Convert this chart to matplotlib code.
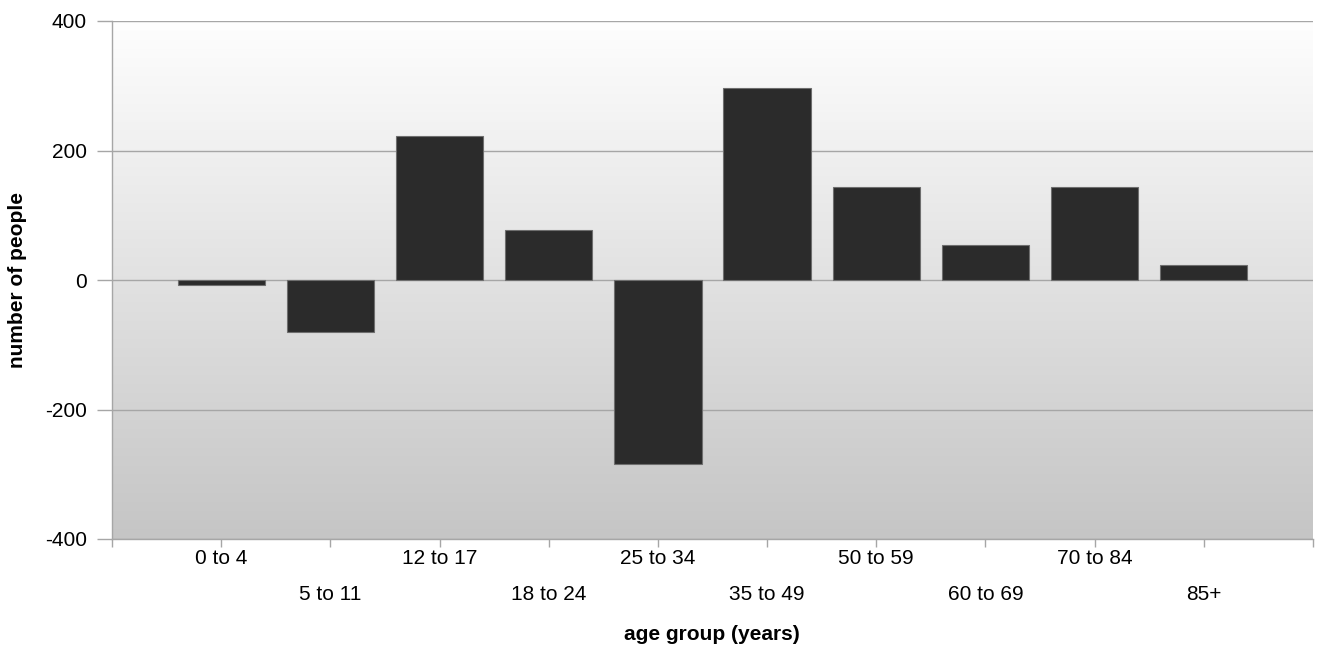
import matplotlib.pyplot as plt
import numpy as np

plt.rcParams["font.family"] = ["Liberation Sans", "DejaVu Sans"]

age_groups = ["0 to 4", "5 to 11", "12 to 17", "18 to 24", "25 to 34",
              "35 to 49", "50 to 59", "60 to 69", "70 to 84", "85+"]
people = [-7, -81, 223, 77, -284, 297, 144, 54, 144, 23]
y_ticks = [-400, -200, 0, 200, 400]

BAR_COLOR = "#2b2b2b"
GRID_COLOR = "#a6a6a6"

fig = plt.figure(figsize=(13.23, 6.51), dpi=100)
ax = fig.add_axes([112 / 1323, 1 - 539 / 651, 1201 / 1323, 518 / 651])

# gradient background, light at top to grey at bottom
grad = np.linspace(0, 1, 256).reshape(-1, 1)
ax.imshow(grad, extent=[0, 1, 0, 1], transform=ax.transAxes, aspect="auto",
          cmap=plt.matplotlib.colors.LinearSegmentedColormap.from_list(
              "bg", ["#fefefe", "#c5c5c5"]), zorder=0)

x = np.arange(len(age_groups))
ax.bar(x, people, width=0.8, color=BAR_COLOR, edgecolor="#6e6e6e",
       linewidth=0.8, zorder=3)

ax.set_xlim(-1, len(age_groups))
ax.set_ylim(-400, 400)

for yv in y_ticks:
    ax.axhline(yv, color=GRID_COLOR, linewidth=1.0, zorder=2)

ax.set_yticks(y_ticks)
ax.set_yticklabels([str(v) for v in y_ticks], fontsize=15)
ax.tick_params(axis="y", length=11, width=1.0, color=GRID_COLOR, pad=7)

# ticks at category boundaries, labels staggered in two rows
ax.set_xticks(np.arange(-1, len(age_groups) + 1))
ax.set_xticklabels([])
ax.tick_params(axis="x", length=6, width=1.0, color=GRID_COLOR)
for i, lab in enumerate(age_groups):
    yoff = -20 / 518 if i % 2 == 0 else -55 / 518
    ax.text(i, yoff, lab, transform=ax.get_xaxis_transform(),
            ha="center", va="center", fontsize=15)

fig.text(712 / 1323, 1 - 635 / 651, "age group (years)", fontsize=15,
         fontweight="bold", ha="center", va="center")
fig.text(18 / 1323, 1 - 280 / 651, "number of people", fontsize=15,
         fontweight="bold", ha="center", va="center", rotation=90)

for side in ["top", "right"]:
    ax.spines[side].set_visible(False)
for side in ["left", "bottom"]:
    ax.spines[side].set_color(GRID_COLOR)
    ax.spines[side].set_linewidth(1.0)

fig.savefig("out.png", dpi=100)
